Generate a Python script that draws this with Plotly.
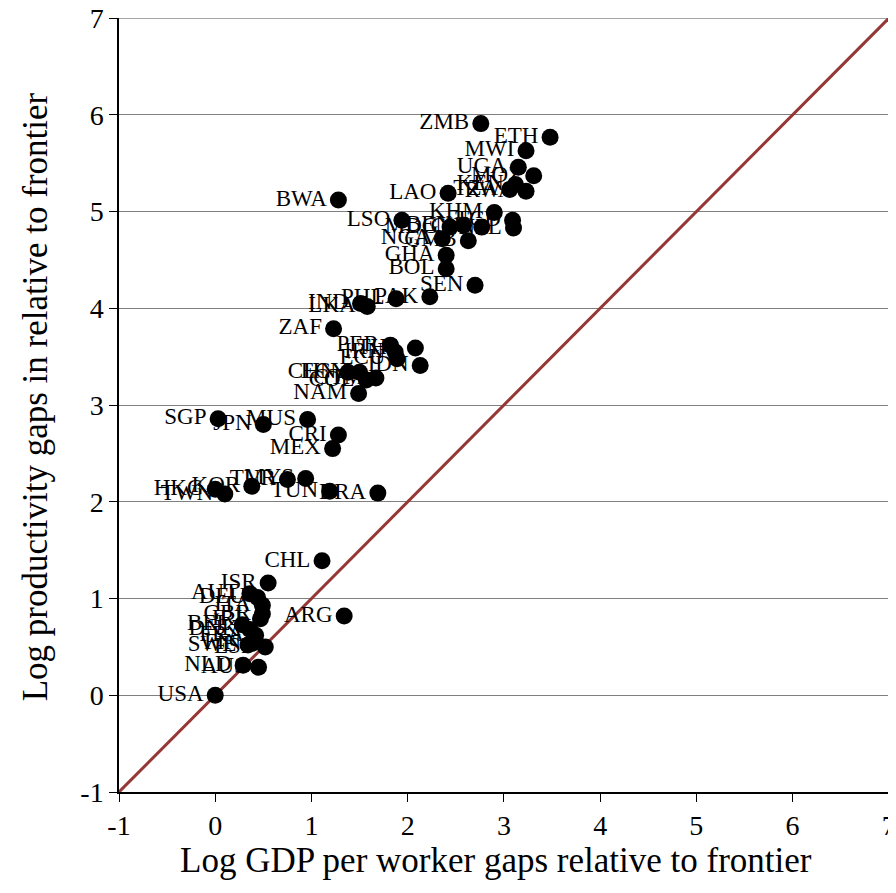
import plotly.graph_objects as go

countries = ["ZMB","ETH","MWI","UGA","MOZ","KEN","TZA","RWA","LAO","BWA",
             "KHM","TCD","NPL","LSO","MDG","BEN","CIV","NGA","GMB","GHA",
             "BOL","SEN","PAK","PHL","IND","LKA","ZAF","PER","IRN","THA",
             "ECU","IDN","CHN","EGY","COL","GTM","NAM","SGP","JPN","MUS",
             "CRI","MEX","HKG","TWN","KOR","TUR","MYS","TUN","BRA","CHL",
             "ARG","ISR","AUT","DEU","ITA","GBR","IRL","BEL","DNK","FRA",
             "FIN","SWE","ESP","NLD","AUS","USA"]
gdp_gap = [2.76,3.48,3.23,3.15,3.31,3.12,3.06,3.23,2.42,1.28,
           2.90,3.09,3.10,1.94,2.44,2.58,2.77,2.36,2.63,2.40,
           2.40,2.70,2.23,1.88,1.51,1.58,1.23,1.82,1.87,2.08,
           1.89,2.13,1.38,1.50,1.57,1.67,1.49,0.03,0.50,0.96,
           1.28,1.22,0.00,0.10,0.38,0.75,0.94,1.19,1.69,1.11,
           1.34,0.55,0.36,0.44,0.49,0.49,0.47,0.28,0.36,0.42,
           0.39,0.34,0.52,0.29,0.45,0.00]
prod_gap = [5.91,5.77,5.63,5.46,5.37,5.28,5.23,5.21,5.19,5.12,
            4.99,4.91,4.83,4.91,4.84,4.86,4.84,4.72,4.70,4.55,
            4.41,4.24,4.12,4.10,4.05,4.02,3.79,3.62,3.55,3.59,
            3.48,3.41,3.34,3.34,3.26,3.28,3.12,2.86,2.80,2.85,
            2.69,2.55,2.13,2.08,2.16,2.23,2.24,2.11,2.09,1.39,
            0.82,1.16,1.05,1.01,0.93,0.84,0.79,0.73,0.68,0.62,
            0.54,0.52,0.50,0.31,0.29,0.00]
diag = [-1, 7]
ticks = [-1, 0, 1, 2, 3, 4, 5, 6, 7]
tick_text = ["-1", "0", "1", "2", "3", "4", "5", "6", "7"]
x_title = "Log GDP per worker gaps relative to frontier"
y_title = "Log productivity gaps in relative to frontier"

font_family = "Liberation Serif"

fig = go.Figure()
fig.add_trace(go.Scatter(x=diag, y=diag, mode="lines",
                         line=dict(color="#953735", width=3),
                         hoverinfo="skip", showlegend=False, cliponaxis=False))
fig.add_trace(go.Scatter(x=gdp_gap, y=prod_gap, mode="markers+text",
                         text=countries, textposition="middle left",
                         textfont=dict(family=font_family, size=23, color="black"),
                         marker=dict(color="black", size=17),
                         showlegend=False))

axis_common = dict(tickmode="array", tickvals=ticks, ticktext=tick_text,
                   zeroline=False, showline=True, linecolor="black", linewidth=1.5,
                   ticks="outside", ticklen=8, tickcolor="black", automargin=False,
                   ticklabeloverflow="allow",
                   tickfont=dict(size=28, family=font_family, color="black"))

fig.update_layout(
    width=888, height=885,
    margin=dict(l=111, r=7, t=10, b=101),
    plot_bgcolor="white", paper_bgcolor="white",
    font=dict(family=font_family, color="black"),
    xaxis=dict(range=[-1, 7.002], showgrid=False, **axis_common),
    yaxis=dict(range=[-1, 7.002], showgrid=True, gridcolor="#7f7f7f", gridwidth=1,
               **axis_common),
    shapes=[dict(type="line", xref="paper", yref="y", x0=0, x1=1,
                 y0=ticks[-1], y1=ticks[-1], layer="below",
                 line=dict(color="#7f7f7f", width=1))],
    annotations=[
        dict(text=x_title, xref="paper", yref="paper", x=0.49, y=0,
             xanchor="center", yanchor="middle", yshift=-68, showarrow=False,
             font=dict(size=35, family=font_family, color="black")),
        dict(text=y_title, xref="paper", yref="paper", x=0, y=0.51,
             xanchor="center", yanchor="middle", xshift=-84, textangle=-90,
             showarrow=False, font=dict(size=35, family=font_family, color="black")),
    ],
)

fig.write_html("out.html")
